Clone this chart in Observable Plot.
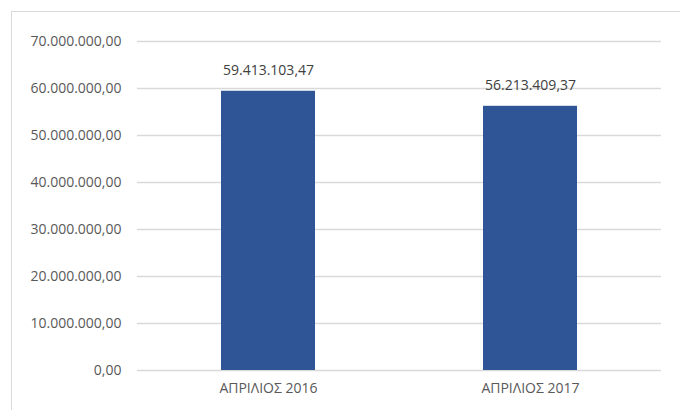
<!DOCTYPE html>
<html><head><meta charset="utf-8">
<script src="https://cdn.jsdelivr.net/npm/d3@7"></script>
<script src="https://cdn.jsdelivr.net/npm/@observablehq/plot@0.6"></script>
<style>
html,body{margin:0;padding:0;background:#fff;}
#wrap{position:relative;width:680px;height:410px;overflow:hidden;}
#box{position:absolute;left:11px;top:11px;width:700px;height:430px;border:1px solid #d9d9d9;box-sizing:border-box;}
#chart{position:absolute;left:0;top:0;}
</style></head>
<body><div id="wrap"><div id="box"></div><div id="chart"></div></div>
<script>
const categories = ["ΑΠΡΙΛΙΟΣ 2016", "ΑΠΡΙΛΙΟΣ 2017"];
const values = [59413103.47, 56213409.37];
const yTicks = [0, 10000000, 20000000, 30000000, 40000000, 50000000, 60000000, 70000000];

const loc = d3.formatLocale({decimal: ",", thousands: ".", grouping: [3], currency: ["", "€"]});
const fmt = loc.format(",.2f");
const data = categories.map((c, i) => ({cat: c, value: values[i]}));

const chart = Plot.plot({
  width: 680, height: 410,
  marginLeft: 137, marginRight: 19, marginTop: 41, marginBottom: 40,
  style: {fontFamily: "'Open Sans', sans-serif", fontSize: "14px", color: "#595959", background: "transparent"},
  x: {domain: categories, label: null, paddingInner: 0.64, paddingOuter: 0.32, tickSize: 0, tickPadding: 13},
  y: {domain: [0, 70000000], ticks: yTicks, tickFormat: fmt, label: null, tickSize: 0, tickPadding: 16},
  marks: [
    Plot.gridY(yTicks, {stroke: "#d9d9d9", strokeOpacity: 1, strokeWidth: 1.3}),
    Plot.barY(data, {x: "cat", y: "value", fill: "#2f5597"}),
    Plot.text(data, {x: "cat", y: "value", text: d => fmt(d.value), dy: -21, fill: "#404040", fontSize: 14})
  ]
});
document.getElementById("chart").appendChild(chart);
</script></body></html>
